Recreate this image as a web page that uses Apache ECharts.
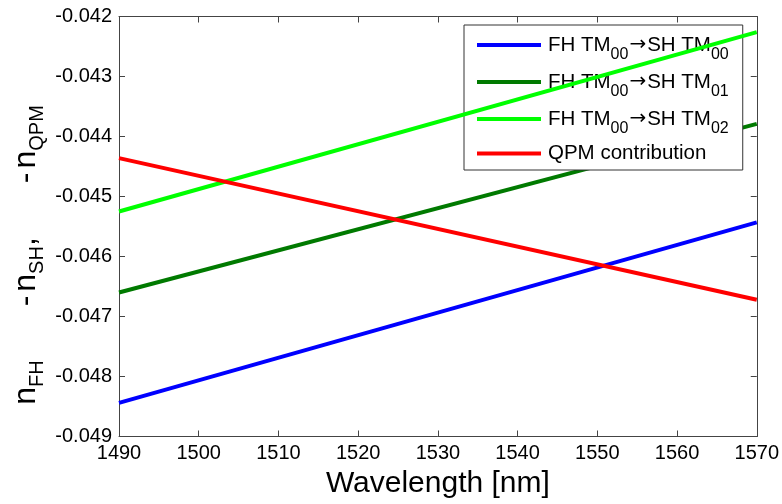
<!DOCTYPE html>
<html>
<head>
<meta charset="utf-8">
<script src="https://cdn.jsdelivr.net/npm/echarts@6/dist/echarts.min.js"></script>
<style>
html,body{margin:0;padding:0;background:#fff;}
#c{width:782px;height:504px;}
</style>
</head>
<body>
<div id="c"></div>
<script>
// ---- data ----
const wavelengths = [1490, 1570];
const tm00 = [-0.04844, -0.04543];   // FH TM00 -> SH TM00
const tm01 = [-0.04660, -0.04379];   // FH TM00 -> SH TM01
const tm02 = [-0.04525, -0.04226];   // FH TM00 -> SH TM02
const qpm  = [-0.04436, -0.04672];   // QPM contribution
const seriesNames = ['FH TM00→SH TM00', 'FH TM00→SH TM01', 'FH TM00→SH TM02', 'QPM contribution'];
const legendRich = [
  '{a|FH TM}{b|00}{r|→}{a|SH TM}{b|00}',
  '{a|FH TM}{b|00}{r|→}{a|SH TM}{b|01}',
  '{a|FH TM}{b|00}{r|→}{a|SH TM}{b|02}',
  '{c|QPM contribution}'
];
const colors = ['#0000ff', '#007a00', '#00ff00', '#ff0000'];
const xMin = 1490, xMax = 1570, xStep = 10;
const yMin = -0.049, yMax = -0.042, yStep = 0.001;

const FONT = '"Liberation Sans", Arial, sans-serif';
const pair = v => wavelengths.map((w, i) => [w, v[i]]);
const allData = [tm00, tm01, tm02, qpm];

const chart = echarts.init(document.getElementById('c'), null, {renderer: 'canvas'});
const axisColor = '#444';
const commonX = {
  type: 'value', min: xMin, max: xMax, interval: xStep,
  splitLine: {show: false},
  axisLine: {show: true, lineStyle: {color: axisColor, width: 1}},
  axisTick: {show: true, inside: true, length: 6, lineStyle: {color: axisColor}},
};
const commonY = {
  type: 'value', min: yMin, max: yMax, interval: yStep,
  splitLine: {show: false},
  axisLine: {show: true, lineStyle: {color: axisColor, width: 1}},
  axisTick: {show: true, inside: true, length: 6, lineStyle: {color: axisColor}},
};

chart.setOption({
  backgroundColor: '#ffffff',
  animation: false,
  grid: {left: 119, right: 25, top: 16.5, bottom: 67.5, containLabel: false},
  xAxis: [
    Object.assign({}, commonX, {
      position: 'bottom',
      axisLabel: {show: true, color: '#000', fontFamily: FONT, fontSize: 20, margin: 7,
        formatter: v => String(v)},
      name: 'Wavelength [nm]', nameLocation: 'middle', nameGap: 30,
      nameTextStyle: {color: '#000', fontFamily: FONT, fontSize: 30}
    }),
    Object.assign({}, commonX, {position: 'top', axisLabel: {show: false}})
  ],
  yAxis: [
    Object.assign({}, commonY, {
      position: 'left',
      axisLabel: {show: true, color: '#000', fontFamily: FONT, fontSize: 20, margin: 7,
        formatter: v => v.toFixed(3)}
    }),
    Object.assign({}, commonY, {position: 'right', axisLabel: {show: false}})
  ],
  legend: {
    orient: 'vertical',
    left: 464, top: 25,
    padding: [2, 14, 1, 13],
    icon: 'rect',
    itemWidth: 64, itemHeight: 4, itemGap: 1,
    backgroundColor: '#ffffff',
    borderColor: '#333', borderWidth: 1, borderRadius: 0,
    data: seriesNames,
    formatter: name => legendRich[seriesNames.indexOf(name)],
    textStyle: {
      color: '#000', fontFamily: FONT, fontSize: 20, padding: [0, 0, 0, 2],
      rich: {
        a: {fontFamily: FONT, fontSize: 20.5, color: '#000'},
        r: {fontFamily: '"DejaVu Sans", sans-serif', fontSize: 20, color: '#000', padding: [0, 1, 0, 1]},
        b: {fontFamily: FONT, fontSize: 16, lineHeight: 16, color: '#000', padding: [20, 0, 0, 0], verticalAlign: 'middle'},
        c: {fontFamily: FONT, fontSize: 20.5, lineHeight: 20, color: '#000', padding: [5, 0, 5, 0]}
      }
    }
  },
  graphic: [{
    type: 'text',
    x: 26, y: 255,
    rotation: Math.PI / 2,
    style: {
      text: '{a|n}{b|FH}{p|-}{a|n}{b|SH}{a|,}{p|-}{a|n}{b|QPM}',
      align: 'center', verticalAlign: 'middle',
      fill: '#000', font: '32px ' + FONT,
      rich: {
        a: {fontFamily: FONT, fontSize: 32, fill: '#000', verticalAlign: 'middle'},
        p: {fontFamily: FONT, fontSize: 32, fill: '#000', verticalAlign: 'middle', padding: [0, 4, 0, 54]},
        b: {fontFamily: FONT, fontSize: 20, lineHeight: 20, fill: '#000', padding: [22, 0, 0, 0], verticalAlign: 'middle'}
      }
    }
  }],
  series: allData.map((d, i) => ({
    name: seriesNames[i], type: 'line', data: pair(d),
    xAxisIndex: 0, yAxisIndex: 0,
    symbol: 'none', showSymbol: false,
    lineStyle: {color: colors[i], width: 4},
    itemStyle: {color: colors[i]},
    z: 2 + i
  }))
});
</script>
</body>
</html>
